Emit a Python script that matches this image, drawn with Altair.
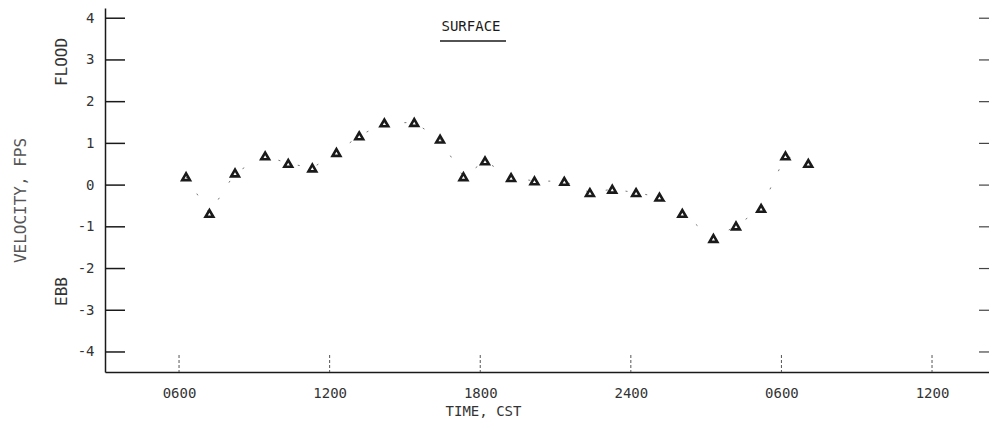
import altair as alt
import pandas as pd

# ---- data ----
hours = [6.28, 7.21, 8.23, 9.43, 10.35, 11.31, 12.27, 13.18, 14.18, 15.37, 16.40,
         17.33, 18.19, 19.23, 20.16, 21.35, 22.37, 23.26, 24.21, 25.14, 26.05,
         27.29, 28.19, 29.19, 30.16, 31.07]
velocity = [0.20, -0.68, 0.29, 0.70, 0.52, 0.41, 0.78, 1.18, 1.49, 1.50, 1.10,
            0.20, 0.58, 0.18, 0.10, 0.09, -0.18, -0.10, -0.18, -0.29, -0.68,
            -1.28, -0.98, -0.56, 0.70, 0.52]

x_ticks = [6, 12, 18, 24, 30, 36]
x_tick_labels = ["0600", "1200", "1800", "2400", "0600", "1200"]
y_ticks = [4, 3, 2, 1, 0, -1, -2, -3, -4]
y_tick_labels = ["4", "3", "2", "1", "0", "-1", "-2", "-3", "-4"]

side_labels = ["FLOOD", "EBB"]
side_label_pos = [2.95, -2.55]

title_text = "SURFACE"

# ---- layout / style ----
W, H = 884, 364
FONT = "DejaVu Sans Mono"
INK = "#1a1a1a"

df = pd.DataFrame({"hour": hours, "velocity": velocity})
df_xt = pd.DataFrame({"hour": x_ticks})
df_yt = pd.DataFrame({"velocity": y_ticks})
df_side = pd.DataFrame({"label": side_labels, "velocity": side_label_pos})


def label_expr(values, labels):
    expr = "''"
    for v, l in reversed(list(zip(values, labels))):
        expr = f"datum.value == {v} ? '{l}' : ({expr})"
    return expr


xscale = alt.Scale(domain=[3.05, 38.27], nice=False, zero=False)
yscale = alt.Scale(domain=[-4.48, 4.245], nice=False, zero=False)

x_axis = alt.Axis(
    values=x_ticks, labelExpr=label_expr(x_ticks, x_tick_labels),
    ticks=False, grid=False, domainColor=INK, domainWidth=1.5,
    labelPadding=14, labelFont=FONT, labelFontSize=14, labelColor="#333",
    labelAngle=0,
    title="TIME, CST", titleFont=FONT, titleFontSize=14, titleFontWeight="normal",
    titleColor="#333", titleX=378, titleY=39, titleAlign="center",
    titleBaseline="middle",
)
y_axis = alt.Axis(
    values=y_ticks, labelExpr=label_expr(y_ticks, y_tick_labels),
    ticks=False, grid=False, domainColor=INK, domainWidth=1.5,
    labelPadding=11, labelFont=FONT, labelFontSize=14, labelColor="#333",
    title="VELOCITY, FPS", titleFont=FONT, titleFontSize=16,
    titleFontWeight="normal", titleColor="#555", titleX=-85, titleY=192,
    titleAngle=270, titleAlign="center", titleBaseline="middle",
)

base = alt.Chart(df)

points = base.mark_point(
    shape="triangle-up", filled=False, size=60, strokeWidth=2.6,
    color=INK, opacity=1,
).encode(
    x=alt.X("hour:Q", scale=xscale, axis=x_axis),
    y=alt.Y("velocity:Q", scale=yscale, axis=y_axis),
)

line = base.mark_line(
    strokeDash=[2, 18], color="#777", strokeWidth=1,
).encode(
    x=alt.X("hour:Q", scale=xscale),
    y=alt.Y("velocity:Q", scale=yscale),
)

y_in_ticks = alt.Chart(df_yt).mark_rule(color=INK, strokeWidth=1.5).encode(
    y=alt.Y("velocity:Q", scale=yscale),
    x=alt.value(0), x2=alt.value(20),
)
right_ticks = alt.Chart(df_yt).mark_rule(color="#444", strokeWidth=1.2).encode(
    y=alt.Y("velocity:Q", scale=yscale),
    x=alt.value(W - 10), x2=alt.value(W),
)
x_in_ticks = alt.Chart(df_xt).mark_rule(
    color="#555", strokeWidth=1, strokeDash=[3, 2]
).encode(
    x=alt.X("hour:Q", scale=xscale),
    y=alt.value(H - 17), y2=alt.value(H),
)

title = alt.Chart(pd.DataFrame({"t": [title_text]})).mark_text(
    font=FONT, fontSize=14, color=INK, align="center", baseline="middle",
).encode(text="t:N", x=alt.value(366), y=alt.value(19))

underline = alt.Chart(pd.DataFrame({"t": [title_text]})).mark_rule(
    color=INK, strokeWidth=1.3
).encode(x=alt.value(335), x2=alt.value(401), y=alt.value(33))

side = alt.Chart(df_side).mark_text(
    font=FONT, fontSize=16, color="#333", angle=270, align="center",
    baseline="middle",
).encode(
    text="label:N",
    y=alt.Y("velocity:Q", scale=yscale),
    x=alt.value(-43),
)

chart = alt.layer(
    line, points, y_in_ticks, right_ticks, x_in_ticks, title, underline, side
).properties(
    width=W, height=H,
    autosize=alt.AutoSizeParams(type="none"),
    padding={"left": 97, "top": 0, "right": 0, "bottom": 50},
    background="white",
).configure_view(stroke=None)

chart.save("out.html", embed_options={"renderer": "svg", "actions": False})
